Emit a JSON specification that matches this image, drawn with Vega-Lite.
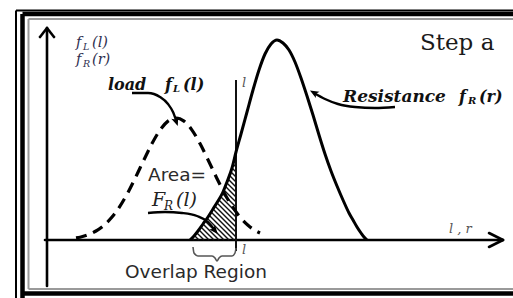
{
  "$schema": "https://vega.github.io/schema/vega-lite/v6.json",
  "width": 513,
  "height": 298,
  "padding": 0,
  "autosize": {"type": "none"},
  "background": "white",
  "config": {"view": {"stroke": null}},
  "datasets": {
    "rules": [
      {"k": "thin", "X": -31, "Y": 229.5, "X2": -31, "Y2": -58},
      {"k": "thin", "X": -31, "Y": 229.5, "X2": 466, "Y2": 229.5},
      {"k": "thick", "X": -24.5, "Y": 226, "X2": -24.5, "Y2": -58},
      {"k": "thick", "X": -24.5, "Y": 226, "X2": 466, "Y2": 226},
      {"k": "thick", "X": -24.5, "Y": -53.5, "X2": 466, "Y2": -53.5},
      {"k": "gray", "X": -18.5, "Y": 221, "X2": -18.5, "Y2": -49},
      {"k": "gray", "X": -18.5, "Y": 221, "X2": 466, "Y2": 221},
      {"k": "gray", "X": -18.5, "Y": -49, "X2": 466, "Y2": -49},
      {"k": "axis", "X": 0, "Y": 211, "X2": 0, "Y2": -46},
      {"k": "axis", "X": -2, "Y": 0, "X2": 456, "Y2": 0},
      {"k": "axis", "X": -7, "Y": 203, "X2": 0, "Y2": 212},
      {"k": "axis", "X": 0, "Y": 212, "X2": 7, "Y2": 203},
      {"k": "axis", "X": 442, "Y": 7, "X2": 456, "Y2": 0},
      {"k": "axis", "X": 456, "Y": 0, "X2": 442, "Y2": -7},
      {"k": "vline", "X": 189, "Y": 160, "X2": 189, "Y2": -11},
      {"k": "hatch", "X": 145, "Y": 2, "X2": 147, "Y2": 0},
      {"k": "hatch", "X": 147.4, "Y": 4.6, "X2": 152, "Y2": 0},
      {"k": "hatch", "X": 149.7, "Y": 7.3, "X2": 157, "Y2": 0},
      {"k": "hatch", "X": 151.8, "Y": 10.2, "X2": 162, "Y2": 0},
      {"k": "hatch", "X": 153.9, "Y": 13.1, "X2": 167, "Y2": 0},
      {"k": "hatch", "X": 156, "Y": 16, "X2": 172, "Y2": 0},
      {"k": "hatch", "X": 158.1, "Y": 18.9, "X2": 177, "Y2": 0},
      {"k": "hatch", "X": 160.2, "Y": 21.8, "X2": 182, "Y2": 0},
      {"k": "hatch", "X": 162.2, "Y": 24.8, "X2": 187, "Y2": 0},
      {"k": "hatch", "X": 164.1, "Y": 27.9, "X2": 189, "Y2": 3},
      {"k": "hatch", "X": 166, "Y": 31, "X2": 189, "Y2": 8},
      {"k": "hatch", "X": 167.9, "Y": 34.1, "X2": 189, "Y2": 13},
      {"k": "hatch", "X": 169.8, "Y": 37.2, "X2": 189, "Y2": 18},
      {"k": "hatch", "X": 171.7, "Y": 40.3, "X2": 189, "Y2": 23},
      {"k": "hatch", "X": 173.5, "Y": 43.5, "X2": 189, "Y2": 28},
      {"k": "hatch", "X": 175.3, "Y": 46.7, "X2": 189, "Y2": 33},
      {"k": "hatch", "X": 176.9, "Y": 50.1, "X2": 189, "Y2": 38},
      {"k": "hatch", "X": 178.3, "Y": 53.7, "X2": 189, "Y2": 43},
      {"k": "hatch", "X": 179.7, "Y": 57.3, "X2": 189, "Y2": 48},
      {"k": "hatch", "X": 181, "Y": 61, "X2": 189, "Y2": 53},
      {"k": "hatch", "X": 182.3, "Y": 64.7, "X2": 189, "Y2": 58},
      {"k": "hatch", "X": 183.5, "Y": 68.5, "X2": 189, "Y2": 63},
      {"k": "hatch", "X": 184.8, "Y": 72.2, "X2": 189, "Y2": 68},
      {"k": "hatch", "X": 185.8, "Y": 76.2, "X2": 189, "Y2": 73},
      {"k": "hatch", "X": 186.9, "Y": 80.1, "X2": 189, "Y2": 78},
      {"k": "hatch", "X": 187.9, "Y": 84.1, "X2": 189, "Y2": 83}
    ],
    "load": [
      {"X": 29, "Y": 2.1}, {"X": 33, "Y": 2.8}, {"X": 41, "Y": 5.2}, {"X": 49, "Y": 9.0},
      {"X": 57, "Y": 14.7}, {"X": 65, "Y": 22.9}, {"X": 73, "Y": 33.9}, {"X": 81, "Y": 47.6},
      {"X": 89, "Y": 63.5}, {"X": 97, "Y": 80.3}, {"X": 105, "Y": 96.4}, {"X": 113, "Y": 109.9},
      {"X": 121, "Y": 118.9}, {"X": 129, "Y": 122}, {"X": 137, "Y": 118.9}, {"X": 145, "Y": 109.9},
      {"X": 153, "Y": 96.4}, {"X": 161, "Y": 80.3}, {"X": 169, "Y": 63.5}, {"X": 177, "Y": 47.6},
      {"X": 185, "Y": 33.9}, {"X": 193, "Y": 22.9}, {"X": 201, "Y": 14.7}, {"X": 209, "Y": 9.0},
      {"X": 213, "Y": 7.0}
    ],
    "resistance": [
      {"X": 143, "Y": 0}, {"X": 147, "Y": 4}, {"X": 151, "Y": 9}, {"X": 156, "Y": 16},
      {"X": 161, "Y": 23}, {"X": 166, "Y": 31}, {"X": 171, "Y": 39}, {"X": 176, "Y": 48},
      {"X": 180, "Y": 58}, {"X": 185, "Y": 72}, {"X": 189, "Y": 88}, {"X": 194, "Y": 106},
      {"X": 200, "Y": 128}, {"X": 206, "Y": 150}, {"X": 212, "Y": 170}, {"X": 218, "Y": 186},
      {"X": 224, "Y": 196}, {"X": 230, "Y": 200}, {"X": 236, "Y": 197}, {"X": 242, "Y": 190},
      {"X": 248, "Y": 178}, {"X": 254, "Y": 162}, {"X": 260, "Y": 144}, {"X": 266, "Y": 125},
      {"X": 272, "Y": 105}, {"X": 278, "Y": 86}, {"X": 284, "Y": 69}, {"X": 290, "Y": 54},
      {"X": 296, "Y": 40}, {"X": 302, "Y": 27}, {"X": 306, "Y": 20}, {"X": 310, "Y": 13},
      {"X": 314, "Y": 7}, {"X": 317, "Y": 3}, {"X": 320, "Y": 0}
    ],
    "arrows": [
      {"a": "load", "X": 85, "Y": 147}, {"a": "load", "X": 101, "Y": 147}, {"a": "load", "X": 113, "Y": 143},
      {"a": "load", "X": 121, "Y": 136}, {"a": "load", "X": 126, "Y": 128}, {"a": "load", "X": 129, "Y": 120},
      {"a": "res", "X": 348, "Y": 133}, {"a": "res", "X": 328, "Y": 132}, {"a": "res", "X": 308, "Y": 133},
      {"a": "res", "X": 291, "Y": 136}, {"a": "res", "X": 278, "Y": 141}, {"a": "res", "X": 267, "Y": 147},
      {"a": "fr", "X": 101, "Y": 27}, {"a": "fr", "X": 118, "Y": 28}, {"a": "fr", "X": 135, "Y": 27},
      {"a": "fr", "X": 150, "Y": 24}, {"a": "fr", "X": 161, "Y": 18}, {"a": "fr", "X": 167, "Y": 11}
    ],
    "heads": [
      {"a": "load", "X": 129, "Y": 119},
      {"a": "res", "X": 267.5, "Y": 147},
      {"a": "fr", "X": 167.4, "Y": 10}
    ],
    "brace": [
      {"X": 146, "Y": -7}, {"X": 147, "Y": -13}, {"X": 151, "Y": -16}, {"X": 165, "Y": -16},
      {"X": 168, "Y": -18}, {"X": 170, "Y": -21}, {"X": 172, "Y": -18}, {"X": 175, "Y": -16},
      {"X": 185, "Y": -16}, {"X": 188, "Y": -13}, {"X": 189, "Y": -8}
    ],
    "texts": [
      {"s": "labmain", "X": 29, "Y": 197, "t": "f"},
      {"s": "labmain", "X": 45, "Y": 197, "t": "(l)"},
      {"s": "labmain", "X": 29, "Y": 180, "t": "f"},
      {"s": "labmain", "X": 45, "Y": 180, "t": "(r)"},
      {"s": "labsub", "X": 36, "Y": 193.5, "t": "L"},
      {"s": "labsub", "X": 36, "Y": 176.5, "t": "R"},
      {"s": "bold", "X": 61, "Y": 155, "t": "load"},
      {"s": "bold", "X": 118, "Y": 155, "t": "f"},
      {"s": "bold", "X": 136, "Y": 155, "t": "(l)"},
      {"s": "res", "X": 296, "Y": 143, "t": "Resistance"},
      {"s": "bold", "X": 412, "Y": 143, "t": "f"},
      {"s": "bold", "X": 432, "Y": 143, "t": "(r)"},
      {"s": "boldsub", "X": 126, "Y": 151, "t": "L"},
      {"s": "boldsub", "X": 421, "Y": 139, "t": "R"},
      {"s": "step", "X": 373, "Y": 197, "t": "Step a"},
      {"s": "sans", "X": 101, "Y": 65, "t": "Area="},
      {"s": "sans", "X": 78, "Y": -32, "t": "Overlap Region"},
      {"s": "fmain", "X": 105, "Y": 40, "t": "F"},
      {"s": "fmain", "X": 129, "Y": 40, "t": "(l)"},
      {"s": "fsub", "X": 117, "Y": 34, "t": "R"},
      {"s": "small", "X": 195, "Y": 157, "t": "l"},
      {"s": "small", "X": 195, "Y": -10, "t": "l"},
      {"s": "small", "X": 402, "Y": 11, "t": "l , r"}
    ]
  },
  "encoding": {
    "x": {"field": "X", "type": "quantitative", "scale": {"domain": [-47, 466], "nice": false, "zero": false}, "axis": null},
    "y": {"field": "Y", "type": "quantitative", "scale": {"domain": [-58, 240], "nice": false, "zero": false}, "axis": null}
  },
  "layer": [
    {
      "data": {"name": "rules"},
      "transform": [{"filter": "datum.k === 'thin'"}],
      "mark": {"type": "rule", "color": "#000", "strokeWidth": 2},
      "encoding": {"x2": {"field": "X2"}, "y2": {"field": "Y2"}}
    },
    {
      "data": {"name": "rules"},
      "transform": [{"filter": "datum.k === 'thick'"}],
      "mark": {"type": "rule", "color": "#000", "strokeWidth": 4.5},
      "encoding": {"x2": {"field": "X2"}, "y2": {"field": "Y2"}}
    },
    {
      "data": {"name": "rules"},
      "transform": [{"filter": "datum.k === 'gray'"}],
      "mark": {"type": "rule", "color": "#9a9a9a", "strokeWidth": 2},
      "encoding": {"x2": {"field": "X2"}, "y2": {"field": "Y2"}}
    },
    {
      "data": {"name": "rules"},
      "transform": [{"filter": "datum.k === 'axis'"}],
      "mark": {"type": "rule", "color": "#000", "strokeWidth": 2.6, "strokeCap": "round"},
      "encoding": {"x2": {"field": "X2"}, "y2": {"field": "Y2"}}
    },
    {
      "data": {"name": "rules"},
      "transform": [{"filter": "datum.k === 'vline'"}],
      "mark": {"type": "rule", "color": "#111", "strokeWidth": 2},
      "encoding": {"x2": {"field": "X2"}, "y2": {"field": "Y2"}}
    },
    {
      "data": {"name": "rules"},
      "transform": [{"filter": "datum.k === 'hatch'"}],
      "mark": {"type": "rule", "color": "#111", "strokeWidth": 1.4},
      "encoding": {"x2": {"field": "X2"}, "y2": {"field": "Y2"}}
    },
    {
      "data": {"name": "load"},
      "mark": {"type": "line", "color": "#000", "strokeWidth": 3.2, "strokeDash": [11, 7], "interpolate": "monotone"},
      "encoding": {}
    },
    {
      "data": {"name": "resistance"},
      "mark": {"type": "line", "color": "#000", "strokeWidth": 3, "interpolate": "monotone"},
      "encoding": {}
    },
    {
      "data": {"name": "arrows"},
      "mark": {"type": "line", "color": "#000", "strokeWidth": 2.4, "interpolate": "monotone"},
      "encoding": {"detail": {"field": "a"}}
    },
    {
      "data": {"name": "heads"},
      "transform": [{"filter": "datum.a === 'load'"}],
      "mark": {"type": "point", "shape": "M0,-1L0.7,0.7L0,0.3L-0.7,0.7Z", "filled": true, "color": "#000", "size": 110, "angle": 160, "opacity": 1},
      "encoding": {}
    },
    {
      "data": {"name": "heads"},
      "transform": [{"filter": "datum.a === 'res'"}],
      "mark": {"type": "point", "shape": "M0,-1L0.7,0.7L0,0.3L-0.7,0.7Z", "filled": true, "color": "#000", "size": 110, "angle": 300, "opacity": 1},
      "encoding": {}
    },
    {
      "data": {"name": "heads"},
      "transform": [{"filter": "datum.a === 'fr'"}],
      "mark": {"type": "point", "shape": "M0,-1L0.7,0.7L0,0.3L-0.7,0.7Z", "filled": true, "color": "#000", "size": 110, "angle": 140, "opacity": 1},
      "encoding": {}
    },
    {
      "data": {"name": "brace"},
      "mark": {"type": "line", "color": "#555", "strokeWidth": 1.6, "interpolate": "monotone"},
      "encoding": {}
    },
    {
      "data": {"name": "texts"},
      "transform": [{"filter": "datum.s === 'labmain'"}],
      "mark": {"type": "text", "align": "left", "baseline": "middle", "font": "DejaVu Serif", "fontStyle": "italic", "fontSize": 14.5, "color": "#2f3050"},
      "encoding": {"text": {"field": "t"}}
    },
    {
      "data": {"name": "texts"},
      "transform": [{"filter": "datum.s === 'labsub'"}],
      "mark": {"type": "text", "align": "left", "baseline": "middle", "font": "DejaVu Serif", "fontStyle": "italic", "fontSize": 9.5, "color": "#2f3050"},
      "encoding": {"text": {"field": "t"}}
    },
    {
      "data": {"name": "texts"},
      "transform": [{"filter": "datum.s === 'bold'"}],
      "mark": {"type": "text", "align": "left", "baseline": "middle", "font": "DejaVu Serif", "fontStyle": "italic", "fontWeight": "bold", "fontSize": 16, "color": "#111"},
      "encoding": {"text": {"field": "t"}}
    },
    {
      "data": {"name": "texts"},
      "transform": [{"filter": "datum.s === 'res'"}],
      "mark": {"type": "text", "align": "left", "baseline": "middle", "font": "DejaVu Serif", "fontStyle": "italic", "fontWeight": "bold", "fontSize": 17, "color": "#111"},
      "encoding": {"text": {"field": "t"}}
    },
    {
      "data": {"name": "texts"},
      "transform": [{"filter": "datum.s === 'boldsub'"}],
      "mark": {"type": "text", "align": "left", "baseline": "middle", "font": "DejaVu Serif", "fontStyle": "italic", "fontWeight": "bold", "fontSize": 10, "color": "#111"},
      "encoding": {"text": {"field": "t"}}
    },
    {
      "data": {"name": "texts"},
      "transform": [{"filter": "datum.s === 'step'"}],
      "mark": {"type": "text", "align": "left", "baseline": "middle", "font": "DejaVu Serif", "fontSize": 23, "color": "#1a1a1a"},
      "encoding": {"text": {"field": "t"}}
    },
    {
      "data": {"name": "texts"},
      "transform": [{"filter": "datum.s === 'sans'"}],
      "mark": {"type": "text", "align": "left", "baseline": "middle", "font": "DejaVu Sans", "fontSize": 18.5, "color": "#2a2a2a"},
      "encoding": {"text": {"field": "t"}}
    },
    {
      "data": {"name": "texts"},
      "transform": [{"filter": "datum.s === 'fmain'"}],
      "mark": {"type": "text", "align": "left", "baseline": "middle", "font": "DejaVu Serif", "fontStyle": "italic", "fontSize": 19, "color": "#222"},
      "encoding": {"text": {"field": "t"}}
    },
    {
      "data": {"name": "texts"},
      "transform": [{"filter": "datum.s === 'fsub'"}],
      "mark": {"type": "text", "align": "left", "baseline": "middle", "font": "DejaVu Serif", "fontStyle": "italic", "fontSize": 12, "color": "#222"},
      "encoding": {"text": {"field": "t"}}
    },
    {
      "data": {"name": "texts"},
      "transform": [{"filter": "datum.s === 'small'"}],
      "mark": {"type": "text", "align": "left", "baseline": "middle", "font": "DejaVu Serif", "fontStyle": "italic", "fontSize": 13, "color": "#555"},
      "encoding": {"text": {"field": "t"}}
    }
  ]
}
